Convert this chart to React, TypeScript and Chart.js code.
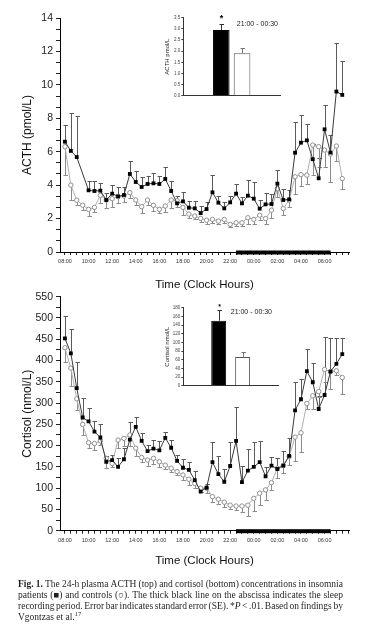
import React, { useEffect, useRef } from 'react';
import { Chart, registerables } from 'chart.js';

Chart.register(...registerables);

// ---------- data ----------
const TIMES = [
  '08:00', '08:30', '09:00', '09:30', '10:00', '10:30', '11:00', '11:30', '12:00', '12:30',
  '13:00', '13:30', '14:00', '14:30', '15:00', '15:30', '16:00', '16:30', '17:00', '17:30',
  '18:00', '18:30', '19:00', '19:30', '20:00', '20:30', '21:00', '21:30', '22:00', '22:30',
  '23:00', '23:30', '00:00', '00:30', '01:00', '01:30', '02:00', '02:30', '03:00', '03:30',
  '04:00', '04:30', '05:00', '05:30', '06:00', '06:30', '07:00', '07:30',
];
const HOUR_LABELS = ['08:00', '10:00', '12:00', '14:00', '16:00', '18:00', '20:00', '22:00', '00:00', '02:00', '04:00', '06:00'];
const SLEEP_PERIOD = ['22:30', '06:30'];
const SERIES_NAMES = ['Insomnia patients', 'Controls'];

const ACTH_INSOMNIA = [6.6, 6.05, 5.68, null, 3.69, 3.65, 3.67, 3.11, 3.49, 3.33, 3.41, 4.67, 4.19, 3.89, 4.07, 4.11, 4.07, 4.37, 3.65, 2.91, 3.03, 2.65, 2.61, 2.33, 2.57, 3.57, 2.95, 2.61, 2.97, 3.49, 2.91, 3.37, 3.19, 2.59, 2.85, 2.87, 4.09, 3.11, 3.15, 5.94, 6.54, 6.68, 5.55, 4.41, 7.34, 5.95, 9.6, 9.4];
const ACTH_INSOMNIA_SE = [1.0, 2.25, 2.44, null, 0.58, 0.58, 0.44, 0.4, 0.5, 0.55, 0.5, 0.8, 0.63, 0.57, 0.45, 0.6, 0.45, 0.7, 0.57, 0.45, 0.55, 0.4, 0.45, 0.45, 0.4, 1.05, 0.43, 0.4, 0.39, 0.57, 0.41, 0.91, 0.97, 0.53, 0.67, 0.61, 0.79, 0.68, 0.55, 1.86, 1.66, 0.98, 0.91, 1.2, 1.46, 1.05, 2.9, 2.0];
const ACTH_CONTROL = [6.3, 4.0, 3.1, 2.8, 2.55, 2.67, 3.39, 3.11, 3.19, 3.31, 3.35, 3.55, 3.11, 2.71, 3.11, 2.79, 2.55, 2.75, 3.11, 3.07, 2.67, 2.27, 2.15, 2.01, 1.9, 1.95, 1.85, 1.95, 1.65, 1.75, 1.75, 2.05, 1.95, 2.2, 2.0, 2.5, 3.8, 2.6, 3.1, 4.5, 4.63, 4.6, 6.4, 6.3, 6.1, 5.86, 6.34, 4.39];
const ACTH_CONTROL_SE = [1.7, 0.9, 0.3, 0.3, 0.4, 0.26, 0.48, 0.5, 0.52, 0.4, 0.35, 0.34, 0.3, 0.36, 0.3, 0.32, 0.24, 0.34, 0.5, 0.36, 0.46, 0.26, 0.2, 0.2, 0.2, 0.2, 0.2, 0.2, 0.15, 0.2, 0.2, 0.4, 0.3, 0.3, 0.3, 0.45, 0.5, 0.4, 0.4, 1.0, 0.7, 0.55, 1.8, 1.2, 1.0, 1.66, 0.9, 0.65];

const CORTISOL_INSOMNIA = [452, 417, 335, 266, 257, 233, 219, 162, 166, 150, 168, 214, 244, 211, 187, 193, 189, 218, 195, 164, 148, 143, 119, 92, 101, 161, 133, 115, 152, 211, 114, 141, 150, 161, 128, 153, 145, 153, 176, 283, 309, 375, 349, 286, 319, 374, 392, 415];
const CORTISOL_INSOMNIA_SE = [53, 56, 61, 47, 32, 25, 31, 14, 12, 20, 26, 41, 24, 18, 14, 20, 22, 13, 18, 14, 20, 19, 21, 8, 9, 47, 43, 29, 56, 80, 39, 51, 58, 50, 22, 21, 25, 34, 43, 67, 47, 51, 44, 30, 137, 78, 60, 37];
const CORTISOL_CONTROL = [430, 382, 310, 250, 207, 205, 211, 170, 158, 213, 217, 225, 194, 172, 166, 170, 162, 154, 147, 139, 131, 121, 111, 100, 100, 80, 74, 67, 60, 58, 58, 60, 76, 88, 96, 113, 147, 153, 174, 220, 230, 299, 317, 327, 379, 374, 376, 360];
const CORTISOL_CONTROL_SE = [34, 42, 26, 25, 13, 15, 10, 22, 8, 18, 17, 25, 18, 10, 14, 14, 12, 9, 8, 8, 12, 14, 11, 10, 12, 12, 12, 11, 9, 10, 13, 25, 30, 28, 24, 17, 22, 18, 20, 57, 44, 14, 30, 12, 29, 42, 10, 39];

const INSET_PERIOD = '21:00 - 00:30';
const INSET_SIGNIFICANCE = ['*', ''];
const ACTH_INSET = [2.95, 1.9];
const ACTH_INSET_SE = [0.27, 0.24];
const CORTISOL_INSET = [150, 66];
const CORTISOL_INSET_SE = [25, 11];

// ---------- helpers ----------
const FONT = "'Liberation Sans', Arial, Helvetica, sans-serif";
Chart.defaults.font.family = FONT;

const toHour = (t: string) => {
  const [hh, mm] = t.split(':').map(Number);
  return ((hh - 8 + 24) % 24) + mm / 60;
};
const pad = (n: number) => (n < 10 ? '0' + n : '' + n);
const clockLabel = (v: number) => {
  const total = 8 * 60 + Math.round(v * 60);
  return pad(Math.floor(total / 60) % 24) + ':' + pad(total % 60);
};

function makeErrorPlugin(seList: (number | null)[][], dirs: number[], colors: string[]) {
  return {
    id: 'errorBars',
    beforeDatasetsDraw(chart: any) {
      const { ctx, scales } = chart;
      const x = scales.x, y = scales.y;
      chart.data.datasets.forEach((ds: any, i: number) => {
        const se = seList[i];
        ctx.save();
        ctx.strokeStyle = colors[i];
        ctx.lineWidth = 1;
        ds.data.forEach((p: any, j: number) => {
          if (p.y == null || se[j] == null) return;
          const px = Math.round(x.getPixelForValue(p.x)) + 0.5;
          const py = y.getPixelForValue(p.y);
          const pe = Math.round(y.getPixelForValue(p.y + dirs[i] * (se[j] as number))) + 0.5;
          ctx.beginPath();
          ctx.moveTo(px, py);
          ctx.lineTo(px, pe);
          ctx.moveTo(px - 2, pe);
          ctx.lineTo(px + 2.5, pe);
          ctx.stroke();
        });
        ctx.restore();
      });
    },
  };
}

const sleepBarPlugin = {
  id: 'sleepBar',
  afterDraw(chart: any) {
    const { ctx, scales, chartArea } = chart;
    const x1 = scales.x.getPixelForValue(toHour(SLEEP_PERIOD[0]));
    const x2 = scales.x.getPixelForValue(toHour(SLEEP_PERIOD[1]));
    ctx.save();
    ctx.fillStyle = '#000';
    ctx.fillRect(x1, chartArea.bottom - 1.5, x2 - x1, 4);
    ctx.restore();
  },
};

type MainSpec = {
  ins: (number | null)[]; insSE: (number | null)[];
  ctl: (number | null)[]; ctlSE: (number | null)[];
  yMax: number; yMajor: number; yMinorCount: number; yTitle: string;
  padTop: number; xHeight: number; titlePadBottom: number;
};

function buildMain(canvas: HTMLCanvasElement, spec: MainSpec) {
  const hours = TIMES.map(toHour);
  const xTicks = [...hours, 24];
  const minor = spec.yMajor / spec.yMinorCount;
  const yTicks: number[] = [];
  for (let i = 0; i * minor <= spec.yMax + 1e-9; i++) yTicks.push(Math.round(i * minor * 1000) / 1000);
  return new Chart(canvas, {
    type: 'line',
    data: {
      datasets: [
        {
          label: SERIES_NAMES[0],
          data: hours.map((h, i) => ({ x: h, y: spec.ins[i] })) as any,
          borderColor: '#3a3a3a', borderWidth: 1, tension: 0, spanGaps: true,
          pointStyle: 'rect', pointRadius: 2.7, pointBackgroundColor: '#000', pointBorderColor: '#000', pointBorderWidth: 0,
        },
        {
          label: SERIES_NAMES[1],
          data: hours.map((h, i) => ({ x: h, y: spec.ctl[i] })) as any,
          borderColor: '#b0b0b0', borderWidth: 1, tension: 0, spanGaps: true,
          pointStyle: 'circle', pointRadius: 2.2, pointBackgroundColor: '#fff', pointBorderColor: '#909090', pointBorderWidth: 1,
        },
      ],
    },
    options: {
      responsive: false,
      animation: false,
      events: [],
      layout: { padding: { left: 0, right: 18, top: spec.padTop, bottom: 0 } },
      plugins: { legend: { display: false }, tooltip: { enabled: false } },
      scales: {
        x: {
          type: 'linear', min: -0.42, max: 24.07,
          afterBuildTicks: (s: any) => { s.ticks = xTicks.map((v) => ({ value: v })); },
          afterFit: (s: any) => { s.height = spec.xHeight; },
          ticks: {
            autoSkip: false, maxRotation: 0, minRotation: 0, padding: 3, color: '#333',
            font: { size: 5.5, family: FONT },
            callback: (v: any) => {
              const lbl = clockLabel(Number(v));
              return Number(v) <= 22.01 && HOUR_LABELS.includes(lbl) ? lbl : '';
            },
          },
          grid: { drawOnChartArea: false, drawTicks: true, tickLength: 3, tickColor: '#222', tickWidth: 1 },
          border: { display: true, color: '#000', width: 1 },
          title: {
            display: true, text: 'Time (Clock Hours)', color: '#111',
            font: { size: 11.5, family: FONT }, padding: { top: 0, bottom: spec.titlePadBottom },
          },
        },
        y: {
          min: 0, max: spec.yMax,
          afterBuildTicks: (s: any) => { s.ticks = yTicks.map((v) => ({ value: v })); },
          afterFit: (s: any) => { s.width = 60; },
          ticks: {
            autoSkip: false, padding: 3, color: '#222', font: { size: 10.5, family: FONT },
            callback: (v: any) => {
              const r = Number(v) / spec.yMajor;
              return Math.abs(r - Math.round(r)) < 1e-6 ? String(Math.round(Number(v))) : '';
            },
          },
          grid: { drawOnChartArea: false, drawTicks: true, tickLength: 4, tickColor: '#222', tickWidth: 1 },
          border: { display: true, color: '#000', width: 1 },
          title: {
            display: true, text: spec.yTitle, color: '#111',
            font: { size: 12, family: FONT }, padding: { top: 20, bottom: 0 },
          },
        },
      },
    } as any,
    plugins: [
      makeErrorPlugin([spec.insSE, spec.ctlSE], [1, -1], ['#5a5a5a', '#8c8c8c']),
      sleepBarPlugin,
    ],
  });
}

type InsetSpec = {
  vals: number[]; se: number[]; yMax: number; step: number; decimals: number; yTitle: string;
  padRight: number; catPct: number; barPct: number;
  starSize: number; starGap: number; textRight: number; textDown: number;
};

function buildInset(canvas: HTMLCanvasElement, spec: InsetSpec) {
  const extras = {
    id: 'insetExtras',
    afterDatasetsDraw(chart: any) {
      const { ctx, chartArea, scales } = chart;
      const y = scales.y;
      chart.data.datasets.forEach((ds: any, i: number) => {
        const bar = chart.getDatasetMeta(i).data[0] as any;
        const px = Math.round(bar.x) + 0.5;
        const top = Math.round(y.getPixelForValue(ds.data[0] + spec.se[i])) + 0.5;
        ctx.save();
        ctx.strokeStyle = i === 0 ? '#333' : '#777';
        ctx.lineWidth = 1;
        ctx.beginPath();
        ctx.moveTo(px, bar.y);
        ctx.lineTo(px, top);
        ctx.moveTo(px - 2, top);
        ctx.lineTo(px + 2.5, top);
        ctx.stroke();
        if (INSET_SIGNIFICANCE[i]) {
          ctx.fillStyle = '#000';
          ctx.font = `bold ${spec.starSize}px ${FONT}`;
          ctx.textAlign = 'center';
          ctx.textBaseline = 'middle';
          ctx.fillText(INSET_SIGNIFICANCE[i], px, top - spec.starGap);
        }
        ctx.restore();
      });
      ctx.save();
      ctx.fillStyle = '#222';
      ctx.font = `7px ${FONT}`;
      ctx.textAlign = 'right';
      ctx.textBaseline = 'middle';
      ctx.fillText(INSET_PERIOD, chartArea.right - spec.textRight, chartArea.top + spec.textDown);
      ctx.restore();
    },
  };
  return new Chart(canvas, {
    type: 'bar',
    data: {
      labels: [''],
      datasets: [
        { label: SERIES_NAMES[0], data: [spec.vals[0]], backgroundColor: '#000', borderColor: '#000', borderWidth: 1 },
        { label: SERIES_NAMES[1], data: [spec.vals[1]], backgroundColor: '#fff', borderColor: '#555', borderWidth: 1 },
      ],
    },
    options: {
      responsive: false,
      animation: false,
      events: [],
      layout: { padding: { left: 0, right: spec.padRight, top: 12.7, bottom: 0 } },
      datasets: { bar: { categoryPercentage: spec.catPct, barPercentage: spec.barPct } },
      plugins: { legend: { display: false }, tooltip: { enabled: false } },
      scales: {
        x: {
          afterFit: (s: any) => { s.height = 9.3; },
          ticks: { display: false },
          grid: { display: true, drawOnChartArea: false, drawTicks: false },
          border: { display: true, color: '#333', width: 1 },
        },
        y: {
          min: 0, max: spec.yMax,
          afterFit: (s: any) => { s.width = 33.3; },
          ticks: {
            stepSize: spec.step, padding: 1, color: '#444', font: { size: 4.5, family: FONT },
            callback: (v: any) => Number(v).toFixed(spec.decimals),
          },
          grid: { drawOnChartArea: false, drawTicks: true, tickLength: 2, tickColor: '#444' },
          border: { display: true, color: '#333', width: 1 },
          title: {
            display: true, text: spec.yTitle, color: '#222',
            font: { size: 6, family: FONT }, padding: { top: 13.4, bottom: 0 },
          },
        },
      },
    } as any,
    plugins: [extras],
  });
}

function ChartCanvas(props: { left: number; top: number; width: number; height: number; build: (c: HTMLCanvasElement) => Chart }) {
  const ref = useRef<HTMLCanvasElement>(null);
  useEffect(() => {
    const chart = props.build(ref.current as HTMLCanvasElement);
    return () => chart.destroy();
  }, []);
  return (
    <canvas
      ref={ref}
      width={props.width}
      height={props.height}
      style={{ position: 'absolute', left: props.left, top: props.top, width: props.width, height: props.height }}
    />
  );
}

function JustifiedLine({ words, last }: { words: React.ReactNode[]; last?: boolean }) {
  if (last) {
    return <div style={{ whiteSpace: 'nowrap' }}>{words.map((w, i) => <span key={i}>{i > 0 ? ' ' : ''}{w}</span>)}</div>;
  }
  return (
    <div style={{ display: 'flex', justifyContent: 'space-between', whiteSpace: 'nowrap' }}>
      {words.map((w, i) => <span key={i}>{w}</span>)}
    </div>
  );
}

const split = (s: string) => s.split(' ');

export default function App() {
  useEffect(() => {
    document.body.style.margin = '0';
  }, []);

  return (
    <div style={{ position: 'relative', width: 367, height: 627, background: '#fff', overflow: 'hidden' }}>
      <ChartCanvas
        left={0} top={0} width={367} height={295}
        build={(c) => buildMain(c, {
          ins: ACTH_INSOMNIA, insSE: ACTH_INSOMNIA_SE, ctl: ACTH_CONTROL, ctlSE: ACTH_CONTROL_SE,
          yMax: 14, yMajor: 2, yMinorCount: 3, yTitle: 'ACTH (pmol/L)',
          padTop: 18, xHeight: 43, titlePadBottom: 3,
        })}
      />
      <ChartCanvas
        left={0} top={280} width={367} height={290}
        build={(c) => buildMain(c, {
          ins: CORTISOL_INSOMNIA, insSE: CORTISOL_INSOMNIA_SE, ctl: CORTISOL_CONTROL, ctlSE: CORTISOL_CONTROL_SE,
          yMax: 550, yMajor: 50, yMinorCount: 2, yTitle: 'Cortisol (nmol/L)',
          padTop: 16.7, xHeight: 39.3, titlePadBottom: 2.4,
        })}
      />
      <ChartCanvas
        left={150} top={5} width={140} height={100}
        build={(c) => buildInset(c, {
          vals: ACTH_INSET, se: ACTH_INSET_SE, yMax: 3.5, step: 0.5, decimals: 1, yTitle: 'ACTH pmol/L',
          padRight: 10, catPct: 0.43, barPct: 0.8, starSize: 9, starGap: 6, textRight: 2, textDown: 6.3,
        })}
      />
      <ChartCanvas
        left={150} top={295} width={140} height={100}
        build={(c) => buildInset(c, {
          vals: CORTISOL_INSET, se: CORTISOL_INSET_SE, yMax: 180, step: 20, decimals: 0, yTitle: 'Cortisol nmol/L',
          padRight: 12, catPct: 0.505, barPct: 0.625, starSize: 7, starGap: 3.5, textRight: 6, textDown: 4.3,
        })}
      />
      <div
        style={{
          position: 'absolute', left: 18, top: 578.5, width: 325,
          fontFamily: "'Liberation Serif', 'Times New Roman', serif", fontSize: 9.5, lineHeight: '11.1px', color: '#231f20',
        }}
      >
        <JustifiedLine words={[<b>Fig.</b>, <b>1.</b>, ...split('The 24-h plasma ACTH (top) and cortisol (bottom) concentrations in insomnia')]} />
        <JustifiedLine words={split('patients (■) and controls (○). The thick black line on the abscissa indicates the sleep')} />
        <JustifiedLine words={[...split('recording period. Error bar indicates standard error (SE).'), <span>*<i>P</i></span>, ...split('< .01. Based on findings by')]} />
        <JustifiedLine last words={['Vgontzas', 'et', <span>al.<sup style={{ fontSize: 6.5, lineHeight: 0 }}>17</sup></span>]} />
      </div>
    </div>
  );
}
